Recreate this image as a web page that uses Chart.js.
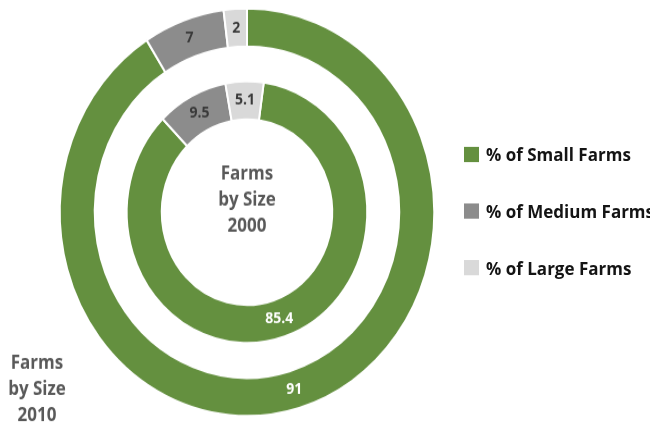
<!DOCTYPE html>
<html>
<head>
<meta charset="utf-8">
<title>Farms by Size</title>
<script src="https://cdn.jsdelivr.net/npm/chart.js@4.4.1/dist/chart.umd.min.js"></script>
<style>
  html, body { margin: 0; padding: 0; background: #fff; overflow: hidden; }
  #wrap {
    position: absolute; left: 0; top: 0;
    width: 650px; height: 393px;
    transform: scaleY(1.088); transform-origin: 0 0;
  }
  #legend { position: absolute; left: 464px; top: 0; margin: 0; padding: 0; list-style: none; }
  #legend li {
    position: absolute; left: 0; white-space: nowrap;
    font: bold 17px "Open Sans", sans-serif; color: #141414;
    display: flex; align-items: center; height: 20px;
  }
  #legend .box { width: 15px; height: 14px; margin-right: 7px; flex: none; }
</style>
</head>
<body>
<div id="wrap">
  <canvas id="farmChart"></canvas>
  <ul id="legend"></ul>
</div>
<script>
// categories and values per survey year
const sizeLabels = ['% of Small Farms', '% of Medium Farms', '% of Large Farms'];
const farms2010 = [91, 7, 2];
const farms2000 = [85.4, 9.5, 5.1];
const sliceColors = ['#64903f', '#8c8c8c', '#d9d9d9'];
const valueColors = ['#ffffff', '#3a3a3a', '#3a3a3a'];
const innerTitle = ['Farms', 'by Size', '2000'];
const outerTitle = ['Farms', 'by Size', '2010'];

// writes the numbers on the slices and the two ring titles
const ringText = {
  id: 'ringText',
  afterDatasetsDraw(chart) {
    const ctx = chart.ctx;
    ctx.save();
    ctx.textAlign = 'center';
    ctx.textBaseline = 'middle';

    ctx.font = 'bold 14px "Open Sans", sans-serif';
    chart.data.datasets.forEach((ds, di) => {
      if (!ds.showValues) return;
      chart.getDatasetMeta(di).data.forEach((arc, i) => {
        const p = arc.tooltipPosition();
        ctx.fillStyle = valueColors[i];
        ctx.fillText(String(ds.data[i]), p.x, p.y);
      });
    });

    const centre = chart.getDatasetMeta(0).data[0];
    ctx.font = 'bold 17px "Open Sans", sans-serif';
    ctx.fillStyle = '#595959';
    innerTitle.forEach((t, i) => ctx.fillText(t, centre.x, centre.y - 35 + i * 24));
    outerTitle.forEach((t, i) => ctx.fillText(t, 37, 334 + i * 24));
    ctx.restore();
  }
};

new Chart(document.getElementById('farmChart'), {
  type: 'doughnut',
  data: {
    labels: sizeLabels,
    datasets: [
      {
        label: '2010',
        data: farms2010,
        backgroundColor: sliceColors,
        borderColor: '#ffffff',
        borderWidth: 2,
        rotation: 0,
        weight: 34,
        showValues: true
      },
      {
        // empty ring that keeps the two years apart
        label: 'gap',
        data: [1],
        backgroundColor: 'rgba(0,0,0,0)',
        borderWidth: 0,
        weight: 31
      },
      {
        label: '2000',
        data: farms2000,
        backgroundColor: sliceColors,
        borderColor: '#ffffff',
        borderWidth: 2,
        rotation: 8,
        weight: 34,
        showValues: true
      }
    ]
  },
  options: {
    responsive: true,
    maintainAspectRatio: false,
    animation: false,
    radius: 187.3,
    cutout: 88.3,
    layout: { padding: { left: 0, right: 156, top: 0, bottom: 3 } },
    plugins: {
      legend: { display: false },
      tooltip: { enabled: false }
    },
    events: []
  },
  plugins: [ringText]
});

// legend on the right
const legend = document.getElementById('legend');
const rowCentres = [141.5, 193.9, 246.3];
sizeLabels.forEach((label, i) => {
  const li = document.createElement('li');
  li.style.top = (rowCentres[i] - 10) + 'px';
  const box = document.createElement('span');
  box.className = 'box';
  box.style.background = sliceColors[i];
  li.appendChild(box);
  li.appendChild(document.createTextNode(label));
  legend.appendChild(li);
});
</script>
</body>
</html>
